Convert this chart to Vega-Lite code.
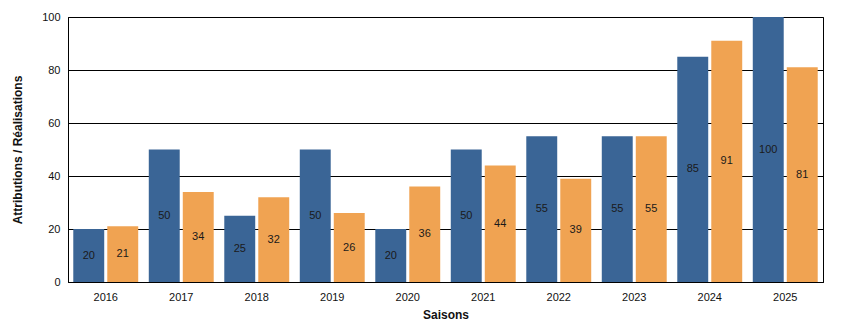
{
  "$schema": "https://vega.github.io/schema/vega-lite/v6.json",
  "width": 755,
  "height": 265,
  "autosize": "none",
  "padding": {"left": 68, "top": 17, "right": 31, "bottom": 52},
  "background": "white",
  "config": {
    "font": "Liberation Sans",
    "view": {"stroke": "black", "strokeWidth": 1},
    "axis": {"labelFont": "Liberation Sans", "titleFont": "Liberation Sans", "labelColor": "#111", "titleColor": "#111"}
  },
  "data": {
    "values": [
      {"saison": "2016", "serie": "Attributions", "value": 20},
      {"saison": "2016", "serie": "Réalisations", "value": 21},
      {"saison": "2017", "serie": "Attributions", "value": 50},
      {"saison": "2017", "serie": "Réalisations", "value": 34},
      {"saison": "2018", "serie": "Attributions", "value": 25},
      {"saison": "2018", "serie": "Réalisations", "value": 32},
      {"saison": "2019", "serie": "Attributions", "value": 50},
      {"saison": "2019", "serie": "Réalisations", "value": 26},
      {"saison": "2020", "serie": "Attributions", "value": 20},
      {"saison": "2020", "serie": "Réalisations", "value": 36},
      {"saison": "2021", "serie": "Attributions", "value": 50},
      {"saison": "2021", "serie": "Réalisations", "value": 44},
      {"saison": "2022", "serie": "Attributions", "value": 55},
      {"saison": "2022", "serie": "Réalisations", "value": 39},
      {"saison": "2023", "serie": "Attributions", "value": 55},
      {"saison": "2023", "serie": "Réalisations", "value": 55},
      {"saison": "2024", "serie": "Attributions", "value": 85},
      {"saison": "2024", "serie": "Réalisations", "value": 91},
      {"saison": "2025", "serie": "Attributions", "value": 100},
      {"saison": "2025", "serie": "Réalisations", "value": 81}
    ]
  },
  "transform": [{"calculate": "datum.value / 2", "as": "mid"}],
  "encoding": {
    "x": {
      "field": "saison", "type": "nominal",
      "scale": {"paddingInner": 0.14, "paddingOuter": 0.07},
      "axis": {"title": "Saisons", "labelAngle": 0, "tickSize": 0, "labelPadding": 9, "labelFontSize": 11, "titleFontSize": 12, "titleFontWeight": "bold", "titlePadding": 7, "domainColor": "black", "grid": false}
    },
    "xOffset": {"field": "serie", "type": "nominal", "scale": {"paddingInner": 0.09, "paddingOuter": 0}}
  },
  "layer": [
    {
      "mark": {"type": "bar"},
      "encoding": {
        "y": {
          "field": "value", "type": "quantitative",
          "scale": {"domain": [0, 100], "nice": false},
          "axis": {"title": "Attributions / Réalisations", "values": [0, 20, 40, 60, 80, 100], "tickSize": 0, "labelPadding": 8, "labelFontSize": 11, "titleFontSize": 12, "titleFontWeight": "bold", "titleX": -44, "grid": true, "gridColor": "black", "gridOpacity": 1, "gridWidth": 1, "domainColor": "black"}
        },
        "color": {
          "field": "serie", "type": "nominal",
          "scale": {"domain": ["Attributions", "Réalisations"], "range": ["#3a6596", "#f0a352"]},
          "legend": null
        }
      }
    },
    {
      "mark": {"type": "text", "fontSize": 11, "color": "#1a1a1a", "baseline": "middle"},
      "encoding": {
        "y": {"field": "mid", "type": "quantitative"},
        "text": {"field": "value", "type": "quantitative"}
      }
    }
  ]
}
